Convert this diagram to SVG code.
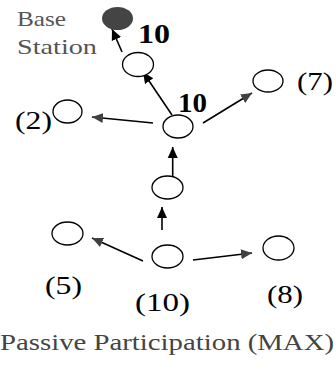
<svg xmlns="http://www.w3.org/2000/svg" width="336" height="369" viewBox="0 0 336 369">
<style>
.node{fill:#fff;stroke:#000;stroke-width:1.3}
.bs{fill:#444;stroke:none}
.edge{stroke:#000;stroke-width:1.6;fill:none}
text{font-family:"Liberation Serif","Times New Roman",Times,serif;fill:#000}
.g{fill:#555}
.cap{fill:#444}
.b{font-weight:bold}
</style>
<defs>
<marker id="ab" markerUnits="userSpaceOnUse" markerWidth="12" markerHeight="12" viewBox="0 0 12 12" refX="11" refY="6" orient="auto"><path d="M0,1 L11,6 L0,11 Z" fill="#000"/></marker>
<marker id="ag" markerUnits="userSpaceOnUse" markerWidth="12" markerHeight="12" viewBox="0 0 12 12" refX="11" refY="6" orient="auto"><path d="M0,1 L11,6 L0,11 Z" fill="#404040"/></marker>
</defs>
<g id="connectors">
<line class="edge" x1="122" y1="52" x2="112" y2="29" marker-end="url(#ab)"/>
<line class="edge" x1="172" y1="115" x2="143" y2="72" marker-end="url(#ab)"/>
<line class="edge" x1="203" y1="123" x2="252" y2="93" marker-end="url(#ag)"/>
<line class="edge" x1="153" y1="123" x2="92" y2="117" marker-end="url(#ag)"/>
<line class="edge" x1="172.7" y1="176" x2="172.7" y2="147" marker-end="url(#ab)"/>
<line class="edge" x1="162" y1="230" x2="162" y2="207" marker-end="url(#ab)"/>
<line class="edge" x1="143" y1="261" x2="92" y2="238" marker-end="url(#ag)"/>
<line class="edge" x1="193" y1="260" x2="252" y2="253" marker-end="url(#ag)"/>
</g>
<g id="base-station">
<ellipse class="bs" cx="117.5" cy="18.5" rx="15.5" ry="11.5"/>
<text class="g" x="17" y="26" font-size="21" textLength="49" lengthAdjust="spacingAndGlyphs">Base</text>
<text class="g" x="17" y="54" font-size="21" textLength="80" lengthAdjust="spacingAndGlyphs">Station</text>
</g>
<g id="node1">
<ellipse class="node" cx="138" cy="64.5" rx="15.5" ry="12"/>
<text class="b" x="138" y="43" font-size="27" textLength="32" lengthAdjust="spacingAndGlyphs">10</text>
</g>
<g id="hub">
<ellipse class="node" cx="178" cy="126.5" rx="15" ry="11.5"/>
<text class="b" x="178" y="112" font-size="27" textLength="29" lengthAdjust="spacingAndGlyphs">10</text>
</g>
<g id="node7">
<ellipse class="node" cx="268" cy="81" rx="15" ry="11"/>
<text x="297" y="90" font-size="25" textLength="36" lengthAdjust="spacingAndGlyphs">(7)</text>
</g>
<g id="node2">
<ellipse class="node" cx="67.5" cy="111.5" rx="14.5" ry="11.5"/>
<text x="15" y="129" font-size="25" textLength="37" lengthAdjust="spacingAndGlyphs">(2)</text>
</g>
<g id="node4">
<ellipse class="node" cx="167.5" cy="187.5" rx="15.5" ry="11.5"/>
</g>
<g id="node10">
<ellipse class="node" cx="167.5" cy="256.5" rx="15.5" ry="11.5"/>
<text x="135" y="311" font-size="25" textLength="55" lengthAdjust="spacingAndGlyphs">(10)</text>
</g>
<g id="node5">
<ellipse class="node" cx="67.5" cy="233.5" rx="15.5" ry="11.5"/>
<text x="45" y="294" font-size="25" textLength="37" lengthAdjust="spacingAndGlyphs">(5)</text>
</g>
<g id="node8">
<ellipse class="node" cx="278.5" cy="248" rx="15.5" ry="12"/>
<text x="267" y="303" font-size="25" textLength="36" lengthAdjust="spacingAndGlyphs">(8)</text>
</g>
<g id="caption">
<text class="cap" x="0" y="350" font-size="24" textLength="334" lengthAdjust="spacingAndGlyphs">Passive Participation (MAX)</text>
</g>
</svg>
